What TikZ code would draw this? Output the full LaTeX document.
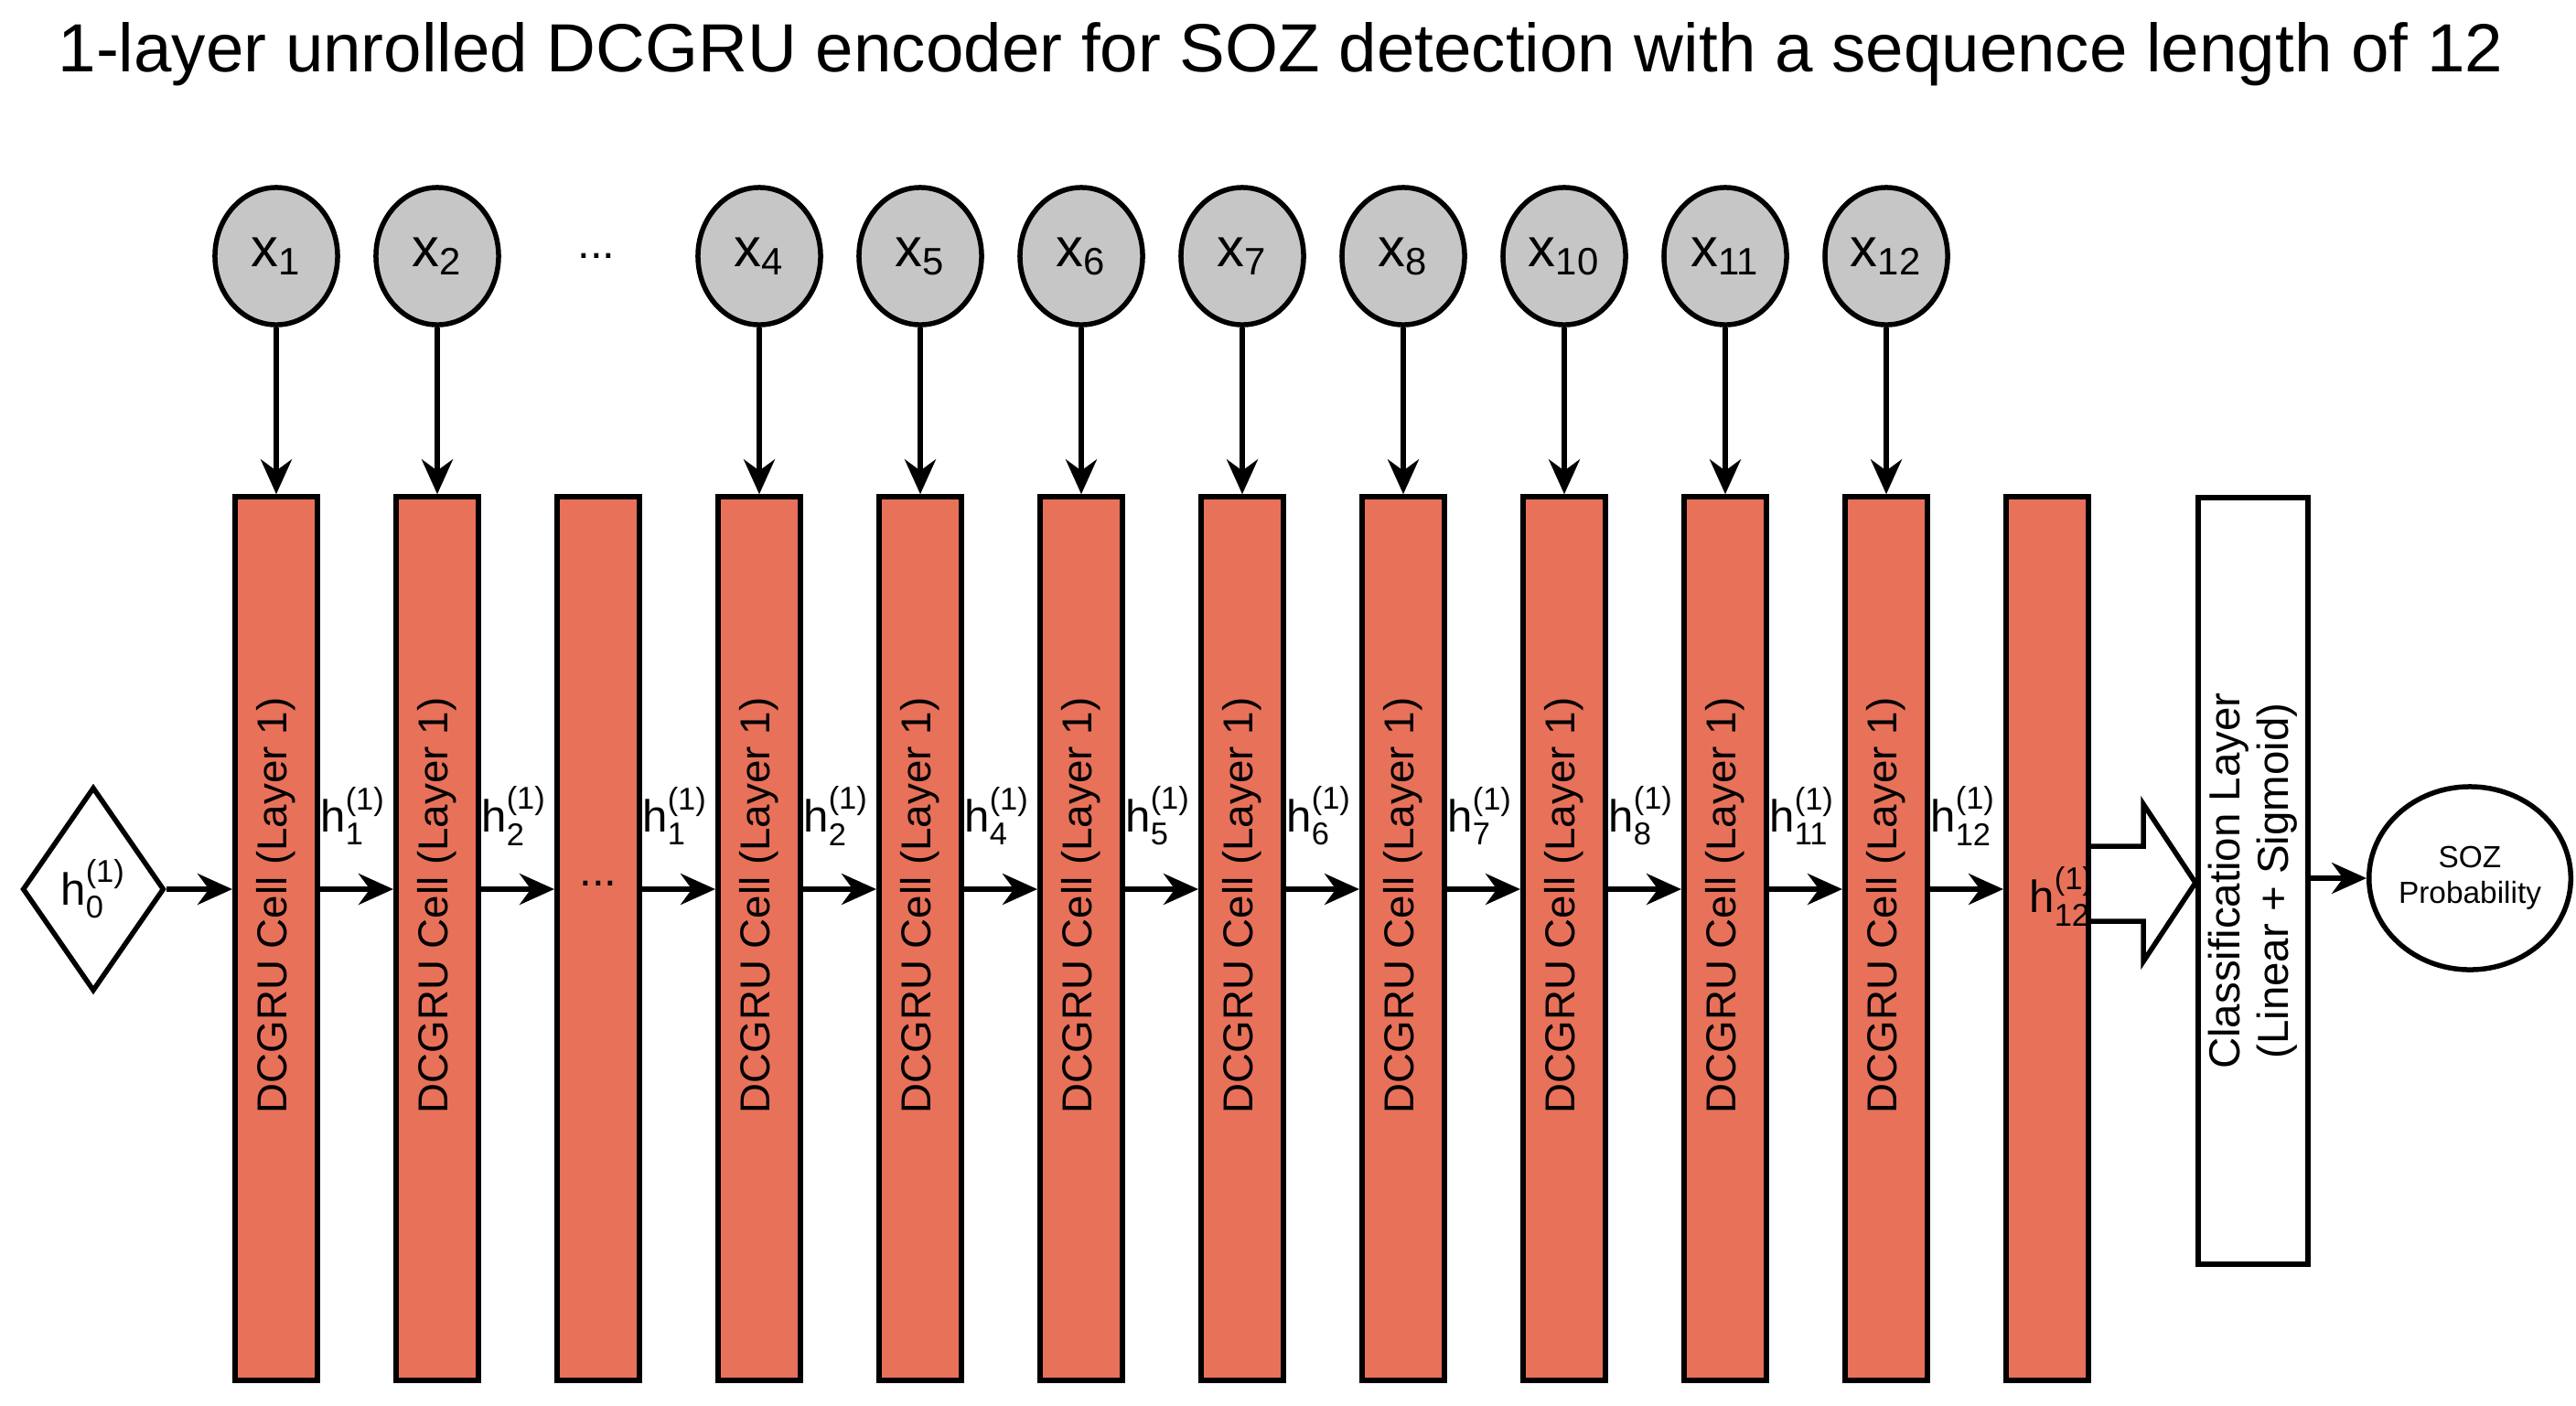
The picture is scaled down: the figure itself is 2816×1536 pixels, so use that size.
\documentclass[tikz,border=0pt]{standalone}
\usepackage{amsmath}
\usepackage{fontspec}
\setmainfont{Liberation Sans}
\usetikzlibrary{calc}
\usetikzlibrary{positioning}
\usetikzlibrary{shapes.geometric}
\usetikzlibrary{arrows.meta}

\newcommand{\hs}[1]{$\text{h}^{\text{(1)}}_{\text{#1}}$}

\tikzset{
  cell/.style={draw, line width=0.06cm, fill=cellred, minimum width=0.9cm,
    minimum height=9.65cm, inner sep=0pt},
  inp/.style={ellipse, draw, line width=0.055cm, fill=gray!45, minimum width=1.34cm,
    minimum height=1.5cm, inner sep=0pt, font=\fontsize{17}{17}\selectfont},
  arr/.style={line width=0.055cm, -{Stealth[length=0.38cm, width=0.34cm]}},
  hlab/.style={font=\fontsize{14}{14}\selectfont, inner sep=0pt},
}
\definecolor{cellred}{HTML}{E8715A}

\begin{document}
\begin{tikzpicture}[x=0.01cm, y=-0.01cm]
\useasboundingbox (0,0) rectangle (2816,1536);

\node at (1400,59) {\fontsize{21.2}{22}\selectfont 1-layer unrolled DCGRU encoder for SOZ detection with a sequence length of 12};

% cells
\foreach \i in {1,...,12} {
  \pgfmathsetmacro{\x}{302+176*(\i-1)}
  \node[cell] (c\i) at (\x,1026) {};
}
\foreach \i in {1,2,4,5,6,7,8,9,10,11} {
  \node[rotate=90, font=\fontsize{13}{13}\selectfont] at ($(c\i.center)+(0,-36)$) {DCGRU Cell (Layer 1)};
}
\node[font=\fontsize{14}{14}\selectfont] at ($(c3.center)+(0,-60)$) {...};

% inputs
\foreach \i/\n in {1/1,2/2,4/4,5/5,6/6,7/7,8/8,9/10,10/11,11/12} {
  \pgfmathsetmacro{\x}{302+176*(\i-1)}
  \node[inp] (x\i) at (\x,280) {x\textsubscript{\n}};
  \draw[arr] (x\i.south) -- (c\i.north);
}
\node[font=\fontsize{14}{14}\selectfont] at (652,280) {...};

% initial state
\node[diamond, draw, line width=0.055cm, minimum width=1.55cm, minimum height=2.23cm,
  inner sep=0pt, font=\fontsize{14}{14}\selectfont] (h0) at (102,972) {\hs{0}};
\draw[arr] (h0.east) -- (h0.east -| c1.west);

% hidden states
\foreach \a/\b/\n in {1/2/1,2/3/2,3/4/1,4/5/2,5/6/4,6/7/5,7/8/6,8/9/7,9/10/8,10/11/11,11/12/12} {
  \draw[arr] (h0.east -| c\a.east) -- (h0.east -| c\b.west);
  \node[hlab] at ($(c\a.east)!0.5!(c\b.west)+(-4,-134)$) {\hs{\n}};
}
\node[hlab] at ($(c12.center)+(16,-46)$) {\hs{12}};

% classifier
\node[draw, line width=0.06cm, minimum width=1.2cm, minimum height=8.38cm, inner sep=0pt] (cls) at (2463,963) {};
\node[rotate=90, align=center, font=\fontsize{13.5}{15}\selectfont] at (cls.center) {Classification Layer\\(Linear + Sigmoid)};
\draw[line width=0.055cm, fill=white] (c12.east |- 0,925) -- (2343,925) -- (2343,879) -- (cls.west |- 0,965)
  -- (2343,1051) -- (2343,1007) -- (c12.east |- 0,1007);

\node[ellipse, draw, line width=0.055cm, minimum width=1.74cm, minimum height=2cm, inner sep=0pt,
  align=center, font=\fontsize{9.5}{11}\selectfont] (soz) at (2700,960) {SOZ\\Probability};
\draw[arr] (cls.east |- soz.west) -- (soz.west);
\end{tikzpicture}
\end{document}
